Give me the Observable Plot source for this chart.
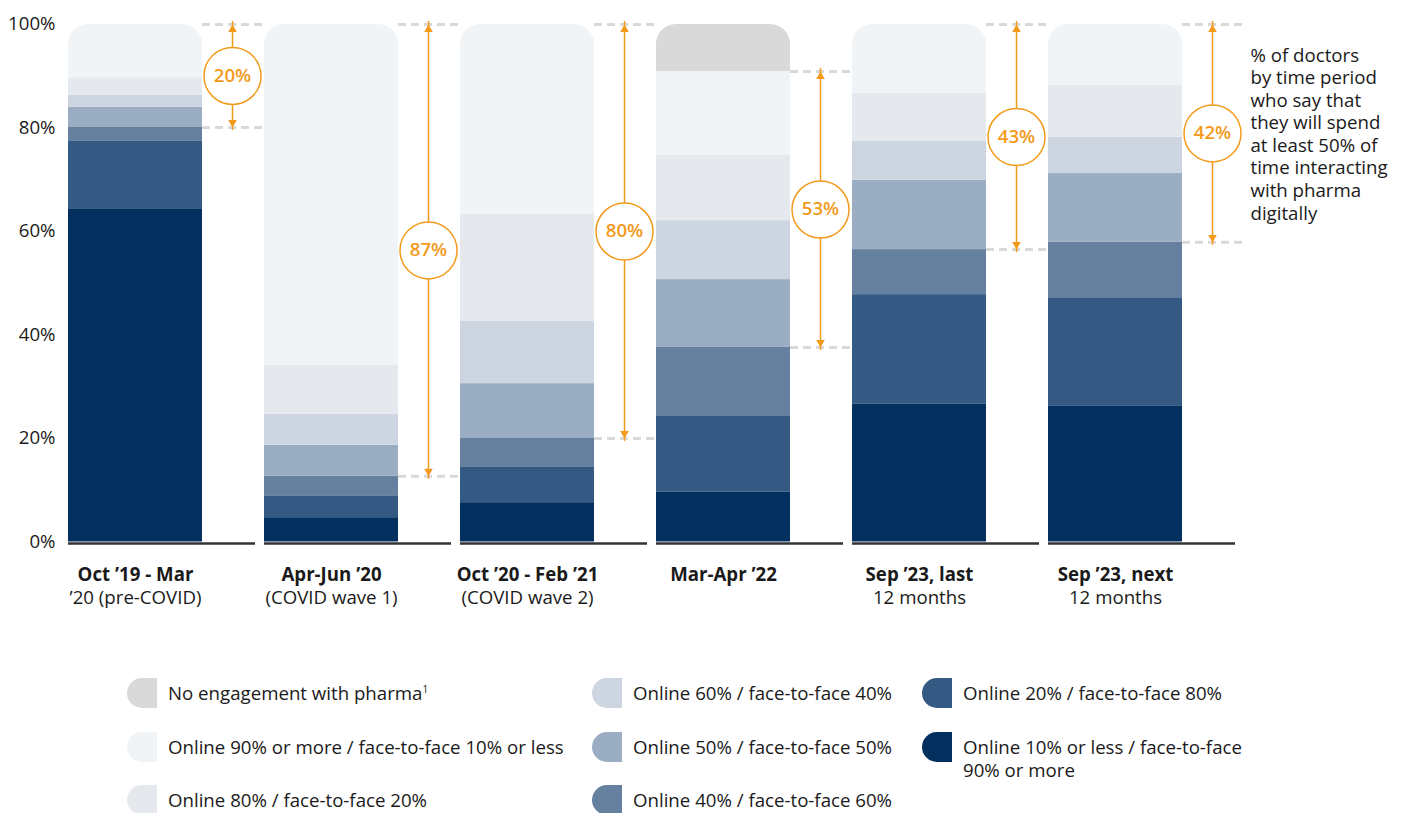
<!DOCTYPE html>
<html><head><meta charset="utf-8">
<script src="https://cdn.jsdelivr.net/npm/d3@7"></script>
<script src="https://cdn.jsdelivr.net/npm/@observablehq/plot@0.6"></script>
<style>
html,body{margin:0;padding:0;background:#fff;overflow:hidden;}
body{font-family:"Open Sans",sans-serif;color:#1a1a1a;width:1402px;height:813px;}
#legend{position:relative;width:1402px;height:173px;}
.item{position:absolute;display:flex;align-items:flex-start;font-size:18.67px;line-height:23px;color:#1a1a1a;}
.sw{width:30px;height:30px;border-radius:15px 0 0 15px;flex:none;margin-right:11px;}
.tx{padding-top:3px;}
sup{font-size:10px;line-height:0;vertical-align:7px;}
</style></head><body><div id="chart"></div><div id="legend"></div>
<script>
// ---- data ----
const categories = ["Oct ’19 - Mar ’20 (pre-COVID)", "Apr-Jun ’20 (COVID wave 1)", "Oct ’20 - Feb ’21 (COVID wave 2)", "Mar-Apr ’22", "Sep ’23, last 12 months", "Sep ’23, next 12 months"];
const labelLine1 = ["Oct ’19 - Mar", "Apr-Jun ’20", "Oct ’20 - Feb ’21", "Mar-Apr ’22", "Sep ’23, last", "Sep ’23, next"];
const labelLine2 = ["’20 (pre-COVID)", "(COVID wave 1)", "(COVID wave 2)", "", "12 months", "12 months"];

// series, bottom to top of the stack
const seriesNames = [
  "Online 10% or less / face-to-face 90% or more",
  "Online 20% / face-to-face 80%",
  "Online 40% / face-to-face 60%",
  "Online 50% / face-to-face 50%",
  "Online 60% / face-to-face 40%",
  "Online 80% / face-to-face 20%",
  "Online 90% or more / face-to-face 10% or less",
  "No engagement with pharma"
];
const seriesColors = ["#03305f", "#345a84", "#66819f", "#9aadc3", "#cdd5e0", "#e5e9ee", "#f0f4f7", "#d9d9d9"];

const online10 = [64.4, 4.7, 7.6, 9.6, 26.6, 26.2];
const online20 = [13.0, 4.1, 6.8, 14.8, 21.2, 21.0];
const online40 = [2.7, 3.9, 5.6, 13.2, 8.7, 10.7];
const online50 = [3.9, 6.0, 10.6, 13.1, 13.4, 13.3];
const online60 = [2.3, 6.0, 12.0, 11.4, 7.5, 7.0];
const online80 = [3.4, 9.5, 20.7, 12.6, 9.3, 10.0];
const online90 = [10.3, 65.8, 36.7, 16.2, 13.3, 11.8];
const noEngagement = [0, 0, 0, 9.1, 0, 0];

// share spending at least 50% of time digitally (labels)
const digitalShare = [20, 87, 80, 53, 43, 42];

const yTicks = [0, 20, 40, 60, 80, 100];
const sideNote = "% of doctors\nby time period\nwho say that\nthey will spend\nat least 50% of\ntime interacting\nwith pharma\ndigitally";

// legend order (column-major)
const legendOrder = [7, 6, 5, 4, 3, 2, 1, 0];

// ---- build tables ----
const seriesValues = [online10, online20, online40, online50, online60, online80, online90, noEngagement];
const rows = [];
seriesNames.forEach((s, si) => categories.forEach((c, ci) => {
  const v = seriesValues[si][ci];
  if (v > 0) rows.push({cat: c, series: s, value: v});
}));
const ann = categories.map((c, i) => {
  const lo = online10[i] + online20[i] + online40[i];
  const hi = 100 - noEngagement[i];
  return {cat: c, lo, hi, mid: (lo + hi) / 2, pct: digitalShare[i]};
});

const orange = "#f39a1c";
const AX = 66; // arrow offset from band centre
const FS = 18.67;

const plot = Plot.plot({
  width: 1402,
  height: 640,
  marginTop: 24,
  marginBottom: 98.5,
  marginLeft: 68,
  marginRight: 158,
  style: {fontFamily: "Open Sans, sans-serif", fontSize: FS + "px", color: "#1a1a1a", background: "#fff"},
  x: {type: "band", domain: categories, paddingInner: 0, paddingOuter: 0, axis: null},
  y: {domain: [0, 100], axis: null},
  color: {domain: seriesNames, range: seriesColors},
  marks: [
    Plot.axisY({ticks: yTicks, tickFormat: d => d + "%", tickSize: 0, tickPadding: 13, fontSize: FS, fill: "#1a1a1a", label: null}),
    Plot.axisX({tickSize: 0, tickPadding: 26, fontSize: FS, fontWeight: "bold", fill: "#1a1a1a", dx: -31, label: null,
      tickFormat: d => labelLine1[categories.indexOf(d)]}),
    Plot.axisX({tickSize: 0, tickPadding: 49, fontSize: FS, fill: "#1a1a1a", dx: -31, label: null,
      tickFormat: d => labelLine2[categories.indexOf(d)]}),
    Plot.barY(rows, Plot.stackY({x: "cat", y: "value", fill: "series", insetRight: 62})),
    Plot.tickY(categories, {x: d => d, y: () => 0, dy: 1.5, insetRight: 9, stroke: "#333", strokeWidth: 2.5}),
    Plot.tickY(ann, {x: "cat", y: "hi", insetLeft: 134, insetRight: 1, stroke: "#d9d9d9", strokeWidth: 3, strokeDasharray: "8,5"}),
    Plot.tickY(ann, {x: "cat", y: "lo", insetLeft: 134, insetRight: 1, stroke: "#d9d9d9", strokeWidth: 3, strokeDasharray: "8,5"}),
    Plot.ruleX(ann, {x: "cat", y1: "lo", y2: "hi", dx: AX, stroke: orange, strokeWidth: 1.5, insetTop: 3, insetBottom: 3}),
    Plot.dot(ann, {x: "cat", y: "hi", dx: AX, dy: 5, symbol: "triangle", r: 3.2, fill: orange, stroke: "none"}),
    Plot.dot(ann, {x: "cat", y: "lo", dx: AX, dy: -5, symbol: "triangle", rotate: 180, r: 3.2, fill: orange, stroke: "none"}),
    Plot.dot(ann, {x: "cat", y: "mid", dx: AX, r: 28.5, fill: "#fff", stroke: orange, strokeWidth: 1.5}),
    Plot.text(ann, {x: "cat", y: "mid", dx: AX, text: d => d.pct + "%", fill: orange, fontWeight: 600, fontSize: FS}),
    Plot.text([sideNote], {frameAnchor: "top-right", textAnchor: "start", lineAnchor: "top", dx: 6, dy: 21, fontSize: FS, lineHeight: 1.21, fill: "#1a1a1a"})
  ]
});

// rounded tops for bars via clip path
(function () {
  const ns = "http://www.w3.org/2000/svg";
  const xs = plot.scale("x"), ys = plot.scale("y");
  const defs = document.createElementNS(ns, "defs");
  const cp = document.createElementNS(ns, "clipPath");
  cp.setAttribute("id", "barclip");
  const bw = xs.bandwidth - 62;
  categories.forEach(c => {
    const r = document.createElementNS(ns, "rect");
    const x0 = xs.apply(c), top = ys.apply(100), bot = ys.apply(0);
    r.setAttribute("x", x0); r.setAttribute("y", top);
    r.setAttribute("width", bw); r.setAttribute("height", bot - top + 40);
    r.setAttribute("rx", 20); r.setAttribute("ry", 20);
    cp.appendChild(r);
  });
  defs.appendChild(cp);
  plot.insertBefore(defs, plot.firstChild);
  plot.querySelectorAll('g[aria-label="bar"]').forEach(g => g.setAttribute("clip-path", "url(#barclip)"));
})();

document.getElementById("chart").appendChild(plot);

// legend
const legend = document.getElementById("legend");
const colLeft = [127, 592, 922];
const rowTop = [38, 92, 145];
legendOrder.forEach((si, k) => {
  const col = Math.floor(k / 3), row = k % 3;
  const it = document.createElement("div");
  it.className = "item";
  it.style.left = colLeft[col] + "px";
  it.style.top = rowTop[row] + "px";
  if (col === 2) it.style.width = "330px";
  const sw = document.createElement("div");
  sw.className = "sw"; sw.style.background = seriesColors[si];
  const tx = document.createElement("div");
  tx.className = "tx";
  tx.innerHTML = seriesNames[si] + (si === 7 ? "<sup>1</sup>" : "");
  it.appendChild(sw); it.appendChild(tx);
  legend.appendChild(it);
});
</script></body></html>
